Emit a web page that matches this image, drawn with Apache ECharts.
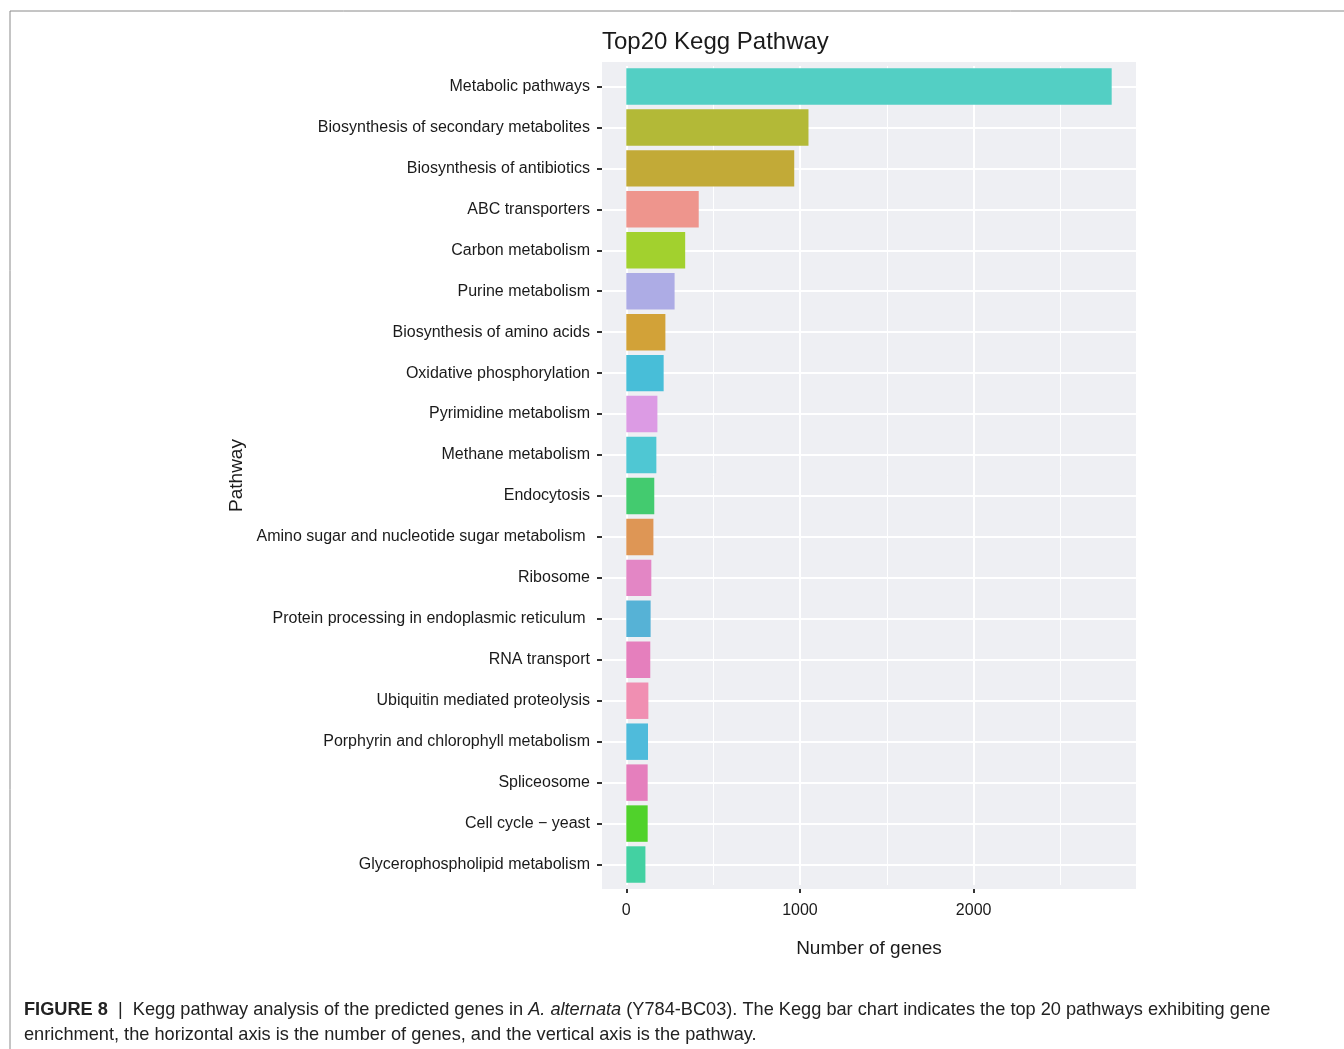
<!DOCTYPE html>
<html>
<head>
<meta charset="utf-8">
<script src="https://cdn.jsdelivr.net/npm/echarts@6/dist/echarts.min.js"></script>
<style>
  html, body { margin: 0; padding: 0; background: #fff; }
  #chart { width: 1344px; height: 1049px; }
</style>
</head>
<body>
<div id="chart"></div>
<script>
const pathways = [
  "Metabolic pathways",
  "Biosynthesis of secondary metabolites",
  "Biosynthesis of antibiotics",
  "ABC transporters",
  "Carbon metabolism",
  "Purine metabolism",
  "Biosynthesis of amino acids",
  "Oxidative phosphorylation",
  "Pyrimidine metabolism",
  "Methane metabolism",
  "Endocytosis",
  "Amino sugar and nucleotide sugar metabolism ",
  "Ribosome",
  "Protein processing in endoplasmic reticulum ",
  "RNA transport",
  "Ubiquitin mediated proteolysis",
  "Porphyrin and chlorophyll metabolism",
  "Spliceosome",
  "Cell cycle \u2212 yeast",
  "Glycerophospholipid metabolism"
];
const geneCounts = [2795, 1049, 967, 417, 339, 278, 225, 215, 179, 173, 161, 156, 144, 140, 138, 127, 125, 123, 123, 110];
const xMajorTicks = [0, 1000, 2000];
const xMinorTicks = [500, 1500, 2500];

const palette = [
  "#53cfc4", "#b3b937", "#c2aa37", "#ee958d", "#a2d12e",
  "#adace5", "#d2a238", "#48bed8", "#dc9be4", "#4fc7d3",
  "#43cb6f", "#de9655", "#e386c5", "#56b2d6", "#e57fbd",
  "#f08fb2", "#4fbbdb", "#e57fbd", "#50d22b", "#43d1a2"
];

const FONT = "Liberation Sans, Arial, Helvetica, sans-serif";
const chart = echarts.init(document.getElementById("chart"));

const option = {
  backgroundColor: "#ffffff",
  animation: false,
  title: {
    text: "Top20 Kegg Pathway",
    left: 597,
    top: 25,
    textStyle: { fontFamily: FONT, fontSize: 24, fontWeight: "normal", color: "#1a1a1a" }
  },
  grid: { left: 602, right: 208, top: 66, bottom: 164 },
  graphic: [
    { type: "rect", z: -5, shape: { x: 602, y: 62, width: 534, height: 827 }, style: { fill: "#eeeff3" } },
    { type: "line", shape: { x1: 10, y1: 11, x2: 1344, y2: 11 }, style: { stroke: "#8a8a8a", lineWidth: 1 } },
    { type: "line", shape: { x1: 10, y1: 11, x2: 10, y2: 1049 }, style: { stroke: "#8a8a8a", lineWidth: 1 } },
    {
      type: "text",
      left: 24,
      top: 997,
      style: {
        text: "{b|FIGURE 8}{n|  |  Kegg pathway analysis of the predicted genes in }{i|A. alternata}{n| (Y784-BC03). The Kegg bar chart indicates the top 20 pathways exhibiting gene}\n{n|enrichment, the horizontal axis is the number of genes, and the vertical axis is the pathway.}",
        fontFamily: FONT,
        fontSize: 18.2,
        lineHeight: 25,
        fill: "#222",
        rich: {
          b: { fontFamily: FONT, fontSize: 18.2, fontWeight: "bold", fill: "#222", lineHeight: 25 },
          n: { fontFamily: FONT, fontSize: 18.2, fill: "#222", lineHeight: 25 },
          i: { fontFamily: FONT, fontSize: 18.2, fontStyle: "italic", fill: "#222", lineHeight: 25 }
        }
      }
    }
  ],
  xAxis: [
    {
      type: "value",
      min: -140,
      max: 2935,
      offset: 4,
      z: 1,
      name: "Number of genes",
      nameLocation: "middle",
      nameGap: 50,
      nameTextStyle: { fontFamily: FONT, fontSize: 19, color: "#1a1a1a" },
      axisLine: { show: false },
      axisTick: { show: true, length: 4, customValues: xMajorTicks, lineStyle: { color: "#333", width: 2 } },
      axisLabel: {
        customValues: xMajorTicks,
        margin: 14,
        fontFamily: FONT,
        fontSize: 16,
        color: "#1a1a1a",
        formatter: (v) => String(v)
      },
      splitLine: { show: true, lineStyle: { color: "#ffffff", width: 2 } }
    },
    {
      type: "value",
      min: -140,
      max: 2935,
      z: 0,
      show: true,
      axisLine: { show: false },
      axisTick: { show: false, customValues: xMinorTicks },
      axisLabel: { show: false, customValues: xMinorTicks },
      splitLine: { show: true, lineStyle: { color: "#ffffff", width: 1 } }
    }
  ],
  yAxis: {
    type: "category",
    inverse: true,
    data: pathways,
    z: 1,
    name: "Pathway",
    nameLocation: "middle",
    nameRotate: 90,
    nameGap: 356,
    nameTextStyle: { fontFamily: FONT, fontSize: 19, color: "#1a1a1a" },
    axisLine: { show: false, onZero: false },
    axisTick: { show: true, alignWithLabel: true, length: 5, lineStyle: { color: "#333", width: 2 } },
    axisLabel: { margin: 12, padding: [4, 0, 0, 0], fontFamily: FONT, fontSize: 16, color: "#1a1a1a" },
    splitLine: { show: true, alignWithLabel: true, lineStyle: { color: "#ffffff", width: 2 } }
  },
  series: [
    {
      type: "bar",
      xAxisIndex: 0,
      barWidth: "89%",
      data: geneCounts.map((v, i) => ({ value: v, itemStyle: { color: palette[i] } }))
    }
  ]
};

chart.setOption(option);
</script>
</body>
</html>
